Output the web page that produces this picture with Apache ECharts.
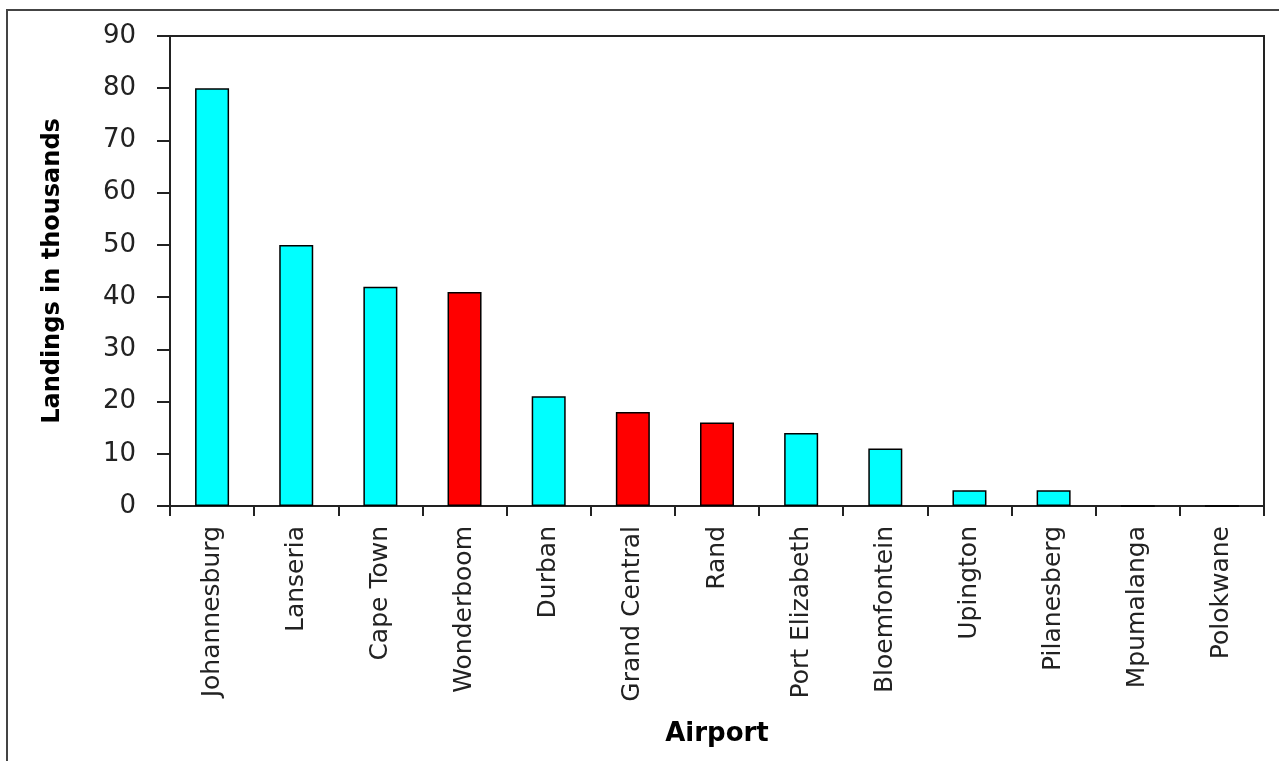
<!DOCTYPE html>
<html>
<head>
<meta charset="utf-8">
<script src="https://cdn.jsdelivr.net/npm/echarts@6/dist/echarts.min.js"></script>
<style>
html,body{margin:0;padding:0;background:#fff;}
#chart{width:1279px;height:761px;}
</style>
</head>
<body>
<div id="chart"></div>
<script>
const categories = ['Johannesburg','Lanseria','Cape Town','Wonderboom','Durban','Grand Central','Rand','Port Elizabeth','Bloemfontein','Upington','Pilanesberg','Mpumalanga','Polokwane'];
const landings = [80, 50, 42, 41, 21, 18, 16, 14, 11, 3, 3, 0, 0];
const redAirports = ['Wonderboom','Grand Central','Rand'];
const yTicks = { min: 0, max: 90, interval: 10 };

const chart = echarts.init(document.getElementById('chart'));
const data = categories.map((c, i) => ({
  value: landings[i],
  itemStyle: { color: redAirports.includes(c) ? '#ff0000' : '#00ffff' }
}));

chart.setOption({
  animation: false,
  backgroundColor: '#fff',
  textStyle: { fontFamily: 'DejaVu Sans' },
  graphic: [{
    type: 'rect',
    z: -10,
    shape: { x: 7, y: 10, width: 3000, height: 3000 },
    style: { fill: 'none', stroke: '#444', lineWidth: 2 }
  }],
  grid: {
    left: 170, right: 15, top: 36, bottom: 255,
    show: true, borderColor: '#222', borderWidth: 2, backgroundColor: 'transparent'
  },
  xAxis: {
    type: 'category',
    data: categories,
    name: 'Airport',
    nameLocation: 'middle',
    nameGap: 215,
    nameTextStyle: { fontFamily: 'DejaVu Sans', fontWeight: 'bold', fontSize: 26, color: '#000' },
    axisLine: { lineStyle: { color: '#222', width: 2 } },
    axisTick: { show: true, length: 10, alignWithLabel: false, lineStyle: { color: '#222', width: 2 } },
    axisLabel: { rotate: 90, margin: 20, fontSize: 25, color: '#222', fontFamily: 'DejaVu Sans', interval: 0 }
  },
  yAxis: {
    type: 'value',
    min: yTicks.min, max: yTicks.max, interval: yTicks.interval,
    name: 'Landings in thousands',
    nameLocation: 'middle',
    nameGap: 105,
    nameRotate: 90,
    nameTextStyle: { fontFamily: 'DejaVu Sans', fontWeight: 'bold', fontSize: 24, color: '#000' },
    axisLine: { show: true, lineStyle: { color: '#222', width: 2 } },
    axisTick: { show: true, length: 13, lineStyle: { color: '#222', width: 2 } },
    axisLabel: { margin: 34, fontSize: 26, color: '#222', fontFamily: 'DejaVu Sans' },
    splitLine: { show: false }
  },
  series: [{
    type: 'bar',
    data: data,
    barWidth: 34,
    itemStyle: { borderColor: '#000', borderWidth: 1.5 }
  }]
});
</script>
</body>
</html>
